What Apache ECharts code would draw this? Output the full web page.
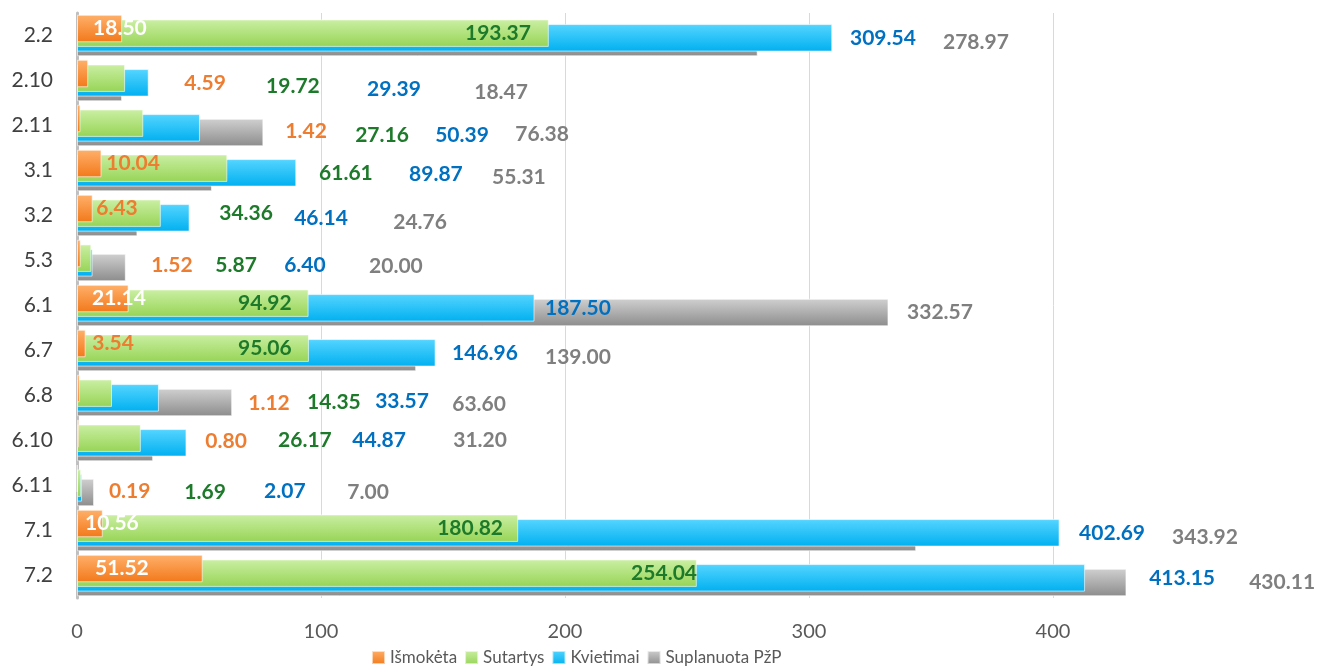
<!DOCTYPE html>
<html>
<head>
<meta charset="utf-8">
<script src="https://cdn.jsdelivr.net/npm/echarts@6/dist/echarts.min.js"></script>
<style>
  html, body { margin: 0; padding: 0; background: #ffffff; }
  #chart { width: 1331px; height: 668px; }
</style>
</head>
<body>
<div id="chart"></div>
<script>
// Priority measures, top to bottom
const categories = ['2.2', '2.10', '2.11', '3.1', '3.2', '5.3', '6.1', '6.7', '6.8', '6.10', '6.11', '7.1', '7.2'];

// Amounts per measure
const ismoketa   = [18.50, 4.59, 1.42, 10.04, 6.43, 1.52, 21.14, 3.54, 1.12, 0.80, 0.19, 10.56, 51.52];
const sutartys   = [193.37, 19.72, 27.16, 61.61, 34.36, 5.87, 94.92, 95.06, 14.35, 26.17, 1.69, 180.82, 254.04];
const kvietimai  = [309.54, 29.39, 50.39, 89.87, 46.14, 6.40, 187.50, 146.96, 33.57, 44.87, 2.07, 402.69, 413.15];
const suplanuota = [278.97, 18.47, 76.38, 55.31, 24.76, 20.00, 332.57, 139.00, 63.60, 31.20, 7.00, 343.92, 430.11];

// Where each value label sits along the value axis (label centre, axis units)
const tagIsmoketa   = [17.6, 52.5, 93.9, 23.0, 16.4, 38.9, 17.2, 14.8, 78.7, 61.1, 21.7, 14.3, 18.4];
const tagSutartys   = [172.5, 88.5, 125.0, 110.2, 69.3, 65.2, 77.0, 77.0, 105.3, 93.4, 52.5, 161.1, 240.6];
const tagKvietimai  = [330.3, 129.9, 157.8, 147.1, 100.0, 93.4, 205.3, 167.2, 133.2, 123.8, 85.2, 424.2, 452.9];
const tagSuplanuota = [368.4, 173.8, 190.6, 181.1, 140.6, 130.7, 353.7, 205.3, 164.8, 165.2, 119.3, 462.3, 493.9];

// Vertical nudge of each value label below its bar's centre line (px)
const dropIsmoketa   = [0, 10, 13, 0, 0, 12, 0, 0, 15, 8, 13, 0, 0];
const dropSutartys   = [0, 8, 12, 5, 0, 7, 0, 0, 9, 2, 9, 0, 0];
const dropKvietimai  = [0, 6, 7, 1, 0, 2, 0, 0, 3, -3, 3, 0, 0];
const dropSuplanuota = [0, 5, 2, 0, 0, -1, 0, 0, 2, -7, 0, 0, 0];

const FONT = 'Lato, "Open Sans", sans-serif';
const LABEL_SIZE = 21;

function grad(top, bottom) {
  return new echarts.graphic.LinearGradient(0, 0, 0, 1, [
    { offset: 0, color: top },
    { offset: 1, color: bottom }
  ]);
}

const seriesDefs = [
  { name: 'Išmokėta',       values: ismoketa,   tags: tagIsmoketa,   drops: dropIsmoketa,   fill: grad('#FFB06A', '#F2791A'), text: '#ED7D31', z: 5 },
  { name: 'Sutartys',       values: sutartys,   tags: tagSutartys,   drops: dropSutartys,   fill: grad('#CBEFA3', '#97D456'), text: '#1E7A2B', z: 4 },
  { name: 'Kvietimai',      values: kvietimai,  tags: tagKvietimai,  drops: dropKvietimai,  fill: grad('#55D5FF', '#00B0F0'), text: '#0070C0', z: 3 },
  { name: 'Suplanuota PžP', values: suplanuota, tags: tagSuplanuota, drops: dropSuplanuota, fill: grad('#D0D0D0', '#8C8C8C'), text: '#7F7F7F', z: 2 }
];

const chart = echarts.init(document.getElementById('chart'), null, { renderer: 'canvas' });

const measureCtx = document.createElement('canvas').getContext('2d');
measureCtx.font = 'bold ' + LABEL_SIZE + 'px ' + FONT;

function buildSeries(toPx) {
  return seriesDefs.map(function (s, si) {
    return {
      type: 'bar',
      name: s.name,
      z: s.z,
      barWidth: 27.5,
      barGap: '-83%',
      clip: false,
      animation: false,
      emphasis: { disabled: true },
      itemStyle: { color: s.fill, borderColor: 'rgba(255,255,255,0.6)', borderWidth: 1 },
      label: {
        show: true,
        fontFamily: FONT,
        fontWeight: 'bold',
        fontSize: LABEL_SIZE,
        color: s.text,
        align: 'center',
        verticalAlign: 'middle',
        formatter: function (p) { return p.value.toFixed(2); }
      },
      data: s.values.map(function (v, i) {
        const item = { value: v };
        if (toPx) {
          const base = toPx(0);
          const centre = toPx(s.tags[i]);
          const txt = v.toFixed(2);
          const left = centre - measureCtx.measureText(txt).width / 2;
          const barEnd = toPx(v);
          const lbl = { position: [centre - base, '50%'], offset: [0, s.drops[i]] };
          // paid-out labels that start inside their own bar are drawn in white
          if (si === 0 && left < barEnd - 2) lbl.color = '#ffffff';
          item.label = lbl;
        }
        return item;
      })
    };
  });
}

const option = {
  backgroundColor: '#ffffff',
  animation: false,
  textStyle: { fontFamily: FONT },
  grid: { left: 77, top: 13, width: 976, height: 585, containLabel: false },
  legend: {
    data: seriesDefs.map(function (s) { return s.name; }),
    left: 366,
    top: 644,
    icon: 'rect',
    itemWidth: 13,
    itemHeight: 13,
    itemGap: 7,
    textStyle: { fontFamily: FONT, fontSize: 17, color: '#595959' }
  },
  xAxis: {
    type: 'value',
    min: 0,
    max: 400,
    interval: 100,
    axisLine: { show: false },
    axisTick: { show: false },
    splitLine: { show: true, lineStyle: { color: '#d9d9d9', width: 1 } },
    axisLabel: { fontFamily: FONT, fontSize: 20, color: '#595959', margin: 24 }
  },
  yAxis: {
    type: 'category',
    inverse: true,
    data: categories,
    axisLine: { show: true, lineStyle: { color: '#bfbfbf', width: 3 } },
    axisTick: { show: false },
    axisLabel: { fontFamily: FONT, fontSize: 21, color: '#404040', margin: 24 }
  },
  series: buildSeries(null)
};

chart.setOption(option);
const toPx = function (v) { return chart.convertToPixel({ xAxisIndex: 0 }, v); };
chart.setOption({ series: buildSeries(toPx) });
</script>
</body>
</html>
